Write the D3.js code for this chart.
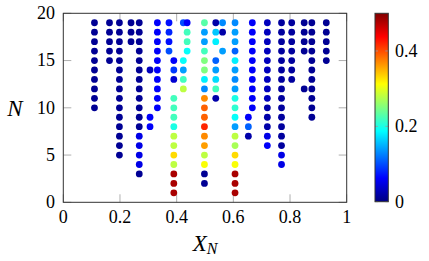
<!DOCTYPE html>
<html><head><meta charset="utf-8">
<script src="https://cdn.jsdelivr.net/npm/d3@7"></script>
<style>body{margin:0;background:#fff}svg{display:block}text{font-family:"Liberation Serif","Times New Roman",serif}</style>
</head><body><svg id="c" width="429" height="261"></svg>
<script>
// ---- data ----
const rowN = [19,18,17,16,15,14,13,12,11,10,9,8,7,6,5,4,3,2,1];
const rowX = [
 [0.11,0.163,0.198,0.239,0.268,0.332,0.373,0.4235,0.437,0.498,0.538,0.562,0.606,0.667,0.72,0.77,0.806,0.85,0.877,0.928],
 [0.11,0.163,0.198,0.239,0.268,0.332,0.373,0.437,0.498,0.538,0.562,0.606,0.667,0.72,0.77,0.806,0.85,0.877,0.928],
 [0.11,0.163,0.198,0.239,0.268,0.332,0.373,0.437,0.498,0.538,0.606,0.667,0.72,0.77,0.806,0.85,0.877,0.928],
 [0.11,0.163,0.198,0.268,0.332,0.373,0.437,0.498,0.562,0.606,0.667,0.72,0.77,0.806,0.85,0.877,0.928],
 [0.11,0.163,0.198,0.268,0.332,0.39,0.4235,0.498,0.538,0.606,0.667,0.72,0.77,0.806,0.877,0.928],
 [0.11,0.198,0.268,0.306,0.332,0.39,0.4235,0.498,0.538,0.606,0.667,0.72,0.77,0.806,0.877],
 [0.11,0.198,0.268,0.332,0.39,0.4235,0.498,0.538,0.606,0.667,0.72,0.77,0.806,0.877],
 [0.11,0.198,0.268,0.332,0.4235,0.498,0.538,0.606,0.667,0.72,0.77,0.85,0.877],
 [0.11,0.198,0.268,0.332,0.39,0.498,0.538,0.606,0.667,0.72,0.77,0.877],
 [0.11,0.198,0.268,0.332,0.39,0.498,0.606,0.667,0.72,0.77,0.877],
 [0.198,0.268,0.306,0.39,0.498,0.606,0.653,0.72,0.77,0.877],
 [0.198,0.268,0.306,0.39,0.498,0.606,0.653,0.72,0.77],
 [0.198,0.268,0.39,0.498,0.606,0.653,0.72,0.77],
 [0.198,0.268,0.39,0.498,0.606,0.72,0.77],
 [0.198,0.268,0.39,0.498,0.606,0.77],
 [0.268,0.39,0.498,0.606,0.77],
 [0.268,0.39,0.498,0.606],
 [0.39,0.498,0.606],
 [0.39,0.606]
];
const rowV = [
 [0.01,0.01,0.01,0.01,0.01,0.06,0.07,0.10,0.06,0.23,0.02,0.13,0.13,0.06,0.03,0.015,0.015,0.01,0.01,0.01],
 [0.01,0.01,0.01,0.01,0.01,0.06,0.08,0.22,0.14,0.16,0.02,0.14,0.06,0.03,0.015,0.015,0.01,0.01,0.01],
 [0.01,0.01,0.01,0.01,0.01,0.06,0.07,0.22,0.14,0.18,0.14,0.06,0.03,0.015,0.015,0.01,0.01,0.01],
 [0.01,0.01,0.01,0.01,0.06,0.10,0.19,0.22,0.14,0.11,0.06,0.03,0.015,0.015,0.01,0.01,0.01],
 [0.01,0.01,0.01,0.01,0.06,0.06,0.19,0.25,0.11,0.18,0.06,0.03,0.015,0.015,0.01,0.01],
 [0.01,0.01,0.01,0.03,0.06,0.09,0.14,0.25,0.14,0.14,0.06,0.03,0.015,0.015,0.01],
 [0.01,0.01,0.01,0.06,0.04,0.22,0.18,0.17,0.13,0.06,0.03,0.015,0.015,0.01],
 [0.01,0.01,0.01,0.06,0.28,0.13,0.22,0.14,0.06,0.03,0.015,0.01,0.01],
 [0.01,0.01,0.01,0.06,0.22,0.37,0.02,0.20,0.06,0.03,0.015,0.01],
 [0.01,0.01,0.01,0.06,0.22,0.39,0.21,0.06,0.02,0.015,0.01],
 [0.01,0.01,0.06,0.22,0.39,0.19,0.06,0.02,0.015,0.01],
 [0.01,0.01,0.06,0.20,0.42,0.14,0.11,0.02,0.015],
 [0.01,0.05,0.28,0.37,0.28,0.02,0.05,0.015],
 [0.01,0.05,0.28,0.36,0.27,0.06,0.015],
 [0.01,0.05,0.33,0.28,0.33,0.05],
 [0.05,0.28,0.31,0.31,0.05],
 [0.01,0.48,0.01,0.48],
 [0.48,0.01,0.48],
 [0.48,0.48]
];
const xTicks = [0,0.2,0.4,0.6,0.8,1];
const xTickLabels = ["0","0.2","0.4","0.6","0.8","1"];
const yTicks = [0,5,10,15,20];
const yTickLabels = ["0","5","10","15","20"];
const cbTicks = [0,0.2,0.4];
const cbTickLabels = ["0","0.2","0.4"];
const cMin = 0, cMax = 0.5;

// ---- build ----
const points = [];
rowN.forEach((n,i)=>rowX[i].forEach((x,j)=>points.push({x, n, v: rowV[i][j]})));

const svg = d3.select("#c");
const L=63.3, R=346.7, T=13.3, B=202.3;
const x = d3.scaleLinear().domain([0,1]).range([L,R]);
const y = d3.scaleLinear().domain([0,20]).range([B,T]);
const jetStops = [0,1/8,3/8,5/8,7/8,1];
const jetCols = ["#000080","#0000ff","#00ffff","#ffff00","#ff0000","#800000"];
const color = d3.scaleLinear().domain(jetStops.map(t=>cMin+t*(cMax-cMin))).range(jetCols).clamp(true);

// ticks (inside, all four sides)
const tk = svg.append("g").attr("stroke","#9a9a9a").attr("stroke-width",0.8);
xTicks.forEach(t=>{
  tk.append("line").attr("x1",x(t)).attr("x2",x(t)).attr("y1",B).attr("y2",B-8);
  tk.append("line").attr("x1",x(t)).attr("x2",x(t)).attr("y1",T).attr("y2",T+8);
});
yTicks.forEach(t=>{
  tk.append("line").attr("x1",L).attr("x2",L+8).attr("y1",y(t)).attr("y2",y(t));
  tk.append("line").attr("x1",R).attr("x2",R-8).attr("y1",y(t)).attr("y2",y(t));
});

// points
svg.append("g").selectAll("circle").data(points).join("circle")
  .attr("cx",d=>x(d.x)).attr("cy",d=>y(d.n)).attr("r",3.4)
  .attr("fill",d=>color(d.v));

// frame
svg.append("rect").attr("x",L).attr("y",T).attr("width",R-L).attr("height",B-T)
  .attr("fill","none").attr("stroke","#333").attr("stroke-width",1);

// tick labels
svg.append("g").selectAll("text").data(xTicks).join("text")
  .attr("x",d=>x(d)).attr("y",223).attr("text-anchor","middle")
  .attr("font-size",18).text((d,i)=>xTickLabels[i]);
svg.append("g").selectAll("text").data(yTicks).join("text")
  .attr("x",55).attr("y",d=>y(d)).attr("dy","0.33em").attr("text-anchor","end")
  .attr("font-size",18).text((d,i)=>yTickLabels[i]);

// axis labels
const xl = svg.append("text").attr("x",205).attr("y",251).attr("text-anchor","middle")
  .attr("font-size",23).attr("font-style","italic");
xl.append("tspan").text("X");
xl.append("tspan").attr("font-size",16).attr("dy",3).text("N");
svg.append("text").attr("x",15).attr("y",108).attr("dy","0.35em").attr("text-anchor","middle")
  .attr("font-size",23).attr("font-style","italic").text("N");

// colorbar
const cbL=375, cbR=388.3, cbT=13.3, cbB=201.7;
const cy = d3.scaleLinear().domain([cMin,cMax]).range([cbB,cbT]);
const grad = svg.append("defs").append("linearGradient").attr("id","jet")
  .attr("x1",0).attr("y1",1).attr("x2",0).attr("y2",0);
jetStops.forEach((t,i)=>grad.append("stop").attr("offset",t).attr("stop-color",jetCols[i]));
svg.append("rect").attr("x",cbL).attr("y",cbT).attr("width",cbR-cbL).attr("height",cbB-cbT)
  .attr("fill","url(#jet)");
const ctk = svg.append("g").attr("stroke","#9a9a9a").attr("stroke-width",0.8);
cbTicks.forEach(t=>{
  ctk.append("line").attr("x1",cbL).attr("x2",cbL+3).attr("y1",cy(t)).attr("y2",cy(t));
  ctk.append("line").attr("x1",cbR).attr("x2",cbR-3).attr("y1",cy(t)).attr("y2",cy(t));
});
svg.append("rect").attr("x",cbL).attr("y",cbT).attr("width",cbR-cbL).attr("height",cbB-cbT)
  .attr("fill","none").attr("stroke","#333").attr("stroke-width",1);
svg.append("g").selectAll("text").data(cbTicks).join("text")
  .attr("x",395).attr("y",d=>cy(d)).attr("dy","0.33em")
  .attr("font-size",18).text((d,i)=>cbTickLabels[i]);
</script>
</body></html>
